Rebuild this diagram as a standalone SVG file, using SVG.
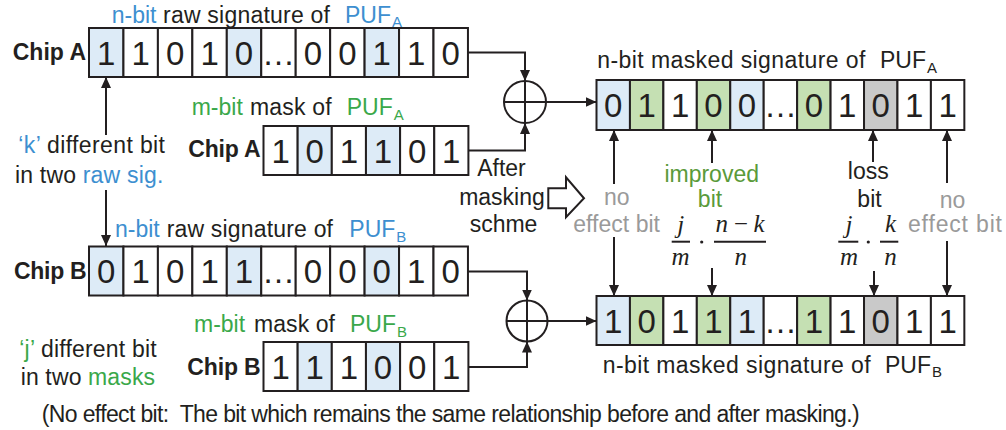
<svg xmlns="http://www.w3.org/2000/svg" width="1006" height="430" viewBox="0 0 1006 430">
  <style>
    .c { stroke: #231f20; stroke-width: 2; }
    .w { fill: #ffffff; }
    .b { fill: #ddebf7; }
    .g { fill: #c5e0b3; }
    .k { fill: #c9c9c9; }
    .d { font-family: "Liberation Sans", Arial, sans-serif; font-size: 33px; fill: #231f20; text-anchor: middle; }
    .t { font-family: "Liberation Sans", Arial, sans-serif; font-size: 23px; fill: #231f20; }
    .s { font-size: 15px; }
    .chip { font-family: "Liberation Sans", Arial, sans-serif; font-size: 23px; font-weight: bold; fill: #231f20; }
    .blue { fill: #3d8fd0; }
    .green { fill: #3aa84a; }
    .olive { fill: #5a9a3a; }
    .grey { fill: #9a9a9a; }
    .mid { text-anchor: middle; }
    .m { font-family: "Liberation Serif", "Times New Roman", serif; font-style: italic; font-size: 25px; fill: #231f20; text-anchor: middle; }
    .ln { fill: none; stroke: #231f20; stroke-width: 2; }
    .ar { fill: none; stroke: #231f20; stroke-width: 2; marker-end: url(#ah); }
  </style>
  <defs>
    <marker id="ah" markerUnits="userSpaceOnUse" markerWidth="11" markerHeight="10" refX="11" refY="5" orient="auto">
      <path d="M0,0 L11,5 L0,10 z" fill="#231f20"/>
    </marker>
  </defs>

  <!-- raw signature of chip A -->
  <g id="raw-a">
    <text class="t" y="22.7"><tspan class="blue" x="111.7">n-bit</tspan><tspan x="163" textLength="167">raw signature of</tspan><tspan class="blue" x="345">PUF</tspan><tspan class="blue s" dx="1" dy="4.3">A</tspan></text>
    <text class="chip" x="12.7" y="60" textLength="73.3">Chip A</text>
    <rect class="c b" x="89" y="28" width="34.45" height="49"/>
    <rect class="c w" x="123.45" y="28" width="34.45" height="49"/>
    <rect class="c w" x="157.9" y="28" width="34.45" height="49"/>
    <rect class="c w" x="192.35" y="28" width="34.45" height="49"/>
    <rect class="c b" x="226.8" y="28" width="34.45" height="49"/>
    <rect class="c w" x="261.25" y="28" width="34.45" height="49"/>
    <rect class="c w" x="295.7" y="28" width="34.45" height="49"/>
    <rect class="c w" x="330.15" y="28" width="34.45" height="49"/>
    <rect class="c b" x="364.6" y="28" width="34.45" height="49"/>
    <rect class="c w" x="399.05" y="28" width="34.45" height="49"/>
    <rect class="c w" x="433.5" y="28" width="34.45" height="49"/>
    <text class="d" y="64.5"><tspan x="106.2">1</tspan><tspan x="140.7">1</tspan><tspan x="175.1">0</tspan><tspan x="209.6">1</tspan><tspan x="244">0</tspan><tspan x="278.5">…</tspan><tspan x="312.9">0</tspan><tspan x="347.4">0</tspan><tspan x="381.8">1</tspan><tspan x="416.3">1</tspan><tspan x="450.7">0</tspan></text>
  </g>

  <!-- mask of chip A -->
  <g id="mask-a">
    <text class="t" y="115"><tspan class="green" x="191.7">m-bit</tspan><tspan x="250" textLength="81.7">mask of</tspan><tspan class="green" x="346.7">PUF</tspan><tspan class="green s" dx="1" dy="5">A</tspan></text>
    <text class="chip" x="188.3" y="157.3" textLength="72.4">Chip A</text>
    <rect class="c w" x="263.5" y="126" width="34.15" height="49"/>
    <rect class="c b" x="297.65" y="126" width="34.15" height="49"/>
    <rect class="c w" x="331.8" y="126" width="34.15" height="49"/>
    <rect class="c b" x="365.95" y="126" width="34.15" height="49"/>
    <rect class="c w" x="400.1" y="126" width="34.15" height="49"/>
    <rect class="c w" x="434.25" y="126" width="34.15" height="49"/>
    <text class="d" y="162.5"><tspan x="280.6">1</tspan><tspan x="314.7">0</tspan><tspan x="348.9">1</tspan><tspan x="383">1</tspan><tspan x="417.2">0</tspan><tspan x="451.3">1</tspan></text>
  </g>

  <!-- XOR of chip A -->
  <g id="xor-a">
    <circle class="ln" cx="525" cy="102" r="21"/>
    <path class="ln" d="M504,102 H546 M525,81 V123"/>
  </g>

  <!-- masked signature of chip A -->
  <g id="masked-a">
    <text class="t" y="68.3"><tspan x="597.3" textLength="268">n-bit masked signature of</tspan><tspan x="880">PUF</tspan><tspan class="s" dx="1" dy="5">A</tspan></text>
    <rect class="c b" x="596.5" y="80" width="33.44" height="50"/>
    <rect class="c g" x="629.94" y="80" width="33.44" height="50"/>
    <rect class="c w" x="663.38" y="80" width="33.44" height="50"/>
    <rect class="c g" x="696.82" y="80" width="33.44" height="50"/>
    <rect class="c b" x="730.26" y="80" width="33.44" height="50"/>
    <rect class="c w" x="763.7" y="80" width="33.44" height="50"/>
    <rect class="c g" x="797.14" y="80" width="33.44" height="50"/>
    <rect class="c w" x="830.58" y="80" width="33.44" height="50"/>
    <rect class="c k" x="864.02" y="80" width="33.44" height="50"/>
    <rect class="c w" x="897.46" y="80" width="33.44" height="50"/>
    <rect class="c w" x="930.9" y="80" width="33.44" height="50"/>
    <text class="d" y="117"><tspan x="613.2">0</tspan><tspan x="646.7">1</tspan><tspan x="680.1">1</tspan><tspan x="713.5">0</tspan><tspan x="747">0</tspan><tspan x="780.4">…</tspan><tspan x="813.9">0</tspan><tspan x="847.3">1</tspan><tspan x="880.7">0</tspan><tspan x="914.2">1</tspan><tspan x="947.6">1</tspan></text>
  </g>

  <!-- raw signature of chip B -->
  <g id="raw-b">
    <text class="t" y="236.7"><tspan class="blue" x="115">n-bit</tspan><tspan x="166.7" textLength="166.3">raw signature of</tspan><tspan class="blue" x="349.3">PUF</tspan><tspan class="blue s" dx="1" dy="5">B</tspan></text>
    <text class="chip" x="14" y="279.3" textLength="72.7">Chip B</text>
    <rect class="c b" x="89" y="246.5" width="34.45" height="49"/>
    <rect class="c w" x="123.45" y="246.5" width="34.45" height="49"/>
    <rect class="c w" x="157.9" y="246.5" width="34.45" height="49"/>
    <rect class="c w" x="192.35" y="246.5" width="34.45" height="49"/>
    <rect class="c b" x="226.8" y="246.5" width="34.45" height="49"/>
    <rect class="c w" x="261.25" y="246.5" width="34.45" height="49"/>
    <rect class="c w" x="295.7" y="246.5" width="34.45" height="49"/>
    <rect class="c w" x="330.15" y="246.5" width="34.45" height="49"/>
    <rect class="c b" x="364.6" y="246.5" width="34.45" height="49"/>
    <rect class="c w" x="399.05" y="246.5" width="34.45" height="49"/>
    <rect class="c w" x="433.5" y="246.5" width="34.45" height="49"/>
    <text class="d" y="283"><tspan x="106.2">0</tspan><tspan x="140.7">1</tspan><tspan x="175.1">0</tspan><tspan x="209.6">1</tspan><tspan x="244">1</tspan><tspan x="278.5">…</tspan><tspan x="312.9">0</tspan><tspan x="347.4">0</tspan><tspan x="381.8">0</tspan><tspan x="416.3">1</tspan><tspan x="450.7">0</tspan></text>
  </g>

  <!-- mask of chip B -->
  <g id="mask-b">
    <text class="t" y="331.7"><tspan class="green" x="194">m-bit</tspan><tspan x="254" textLength="81">mask of</tspan><tspan class="green" x="350">PUF</tspan><tspan class="green s" dx="1" dy="5">B</tspan></text>
    <text class="chip" x="187.3" y="375" textLength="73.4">Chip B</text>
    <rect class="c w" x="263.5" y="342" width="34.15" height="49"/>
    <rect class="c b" x="297.65" y="342" width="34.15" height="49"/>
    <rect class="c w" x="331.8" y="342" width="34.15" height="49"/>
    <rect class="c b" x="365.95" y="342" width="34.15" height="49"/>
    <rect class="c w" x="400.1" y="342" width="34.15" height="49"/>
    <rect class="c w" x="434.25" y="342" width="34.15" height="49"/>
    <text class="d" y="378.5"><tspan x="280.6">1</tspan><tspan x="314.7">1</tspan><tspan x="348.9">1</tspan><tspan x="383">0</tspan><tspan x="417.2">0</tspan><tspan x="451.3">1</tspan></text>
  </g>

  <!-- XOR of chip B -->
  <g id="xor-b">
    <circle class="ln" cx="527" cy="321" r="20.5"/>
    <path class="ln" d="M506.5,321 H547.5 M527,300.5 V341.5"/>
  </g>

  <!-- masked signature of chip B -->
  <g id="masked-b">
    <rect class="c b" x="596.5" y="296" width="33.44" height="49"/>
    <rect class="c g" x="629.94" y="296" width="33.44" height="49"/>
    <rect class="c w" x="663.38" y="296" width="33.44" height="49"/>
    <rect class="c g" x="696.82" y="296" width="33.44" height="49"/>
    <rect class="c b" x="730.26" y="296" width="33.44" height="49"/>
    <rect class="c w" x="763.7" y="296" width="33.44" height="49"/>
    <rect class="c g" x="797.14" y="296" width="33.44" height="49"/>
    <rect class="c w" x="830.58" y="296" width="33.44" height="49"/>
    <rect class="c k" x="864.02" y="296" width="33.44" height="49"/>
    <rect class="c w" x="897.46" y="296" width="33.44" height="49"/>
    <rect class="c w" x="930.9" y="296" width="33.44" height="49"/>
    <text class="d" y="332.5"><tspan x="613.2">1</tspan><tspan x="646.7">0</tspan><tspan x="680.1">1</tspan><tspan x="713.5">1</tspan><tspan x="747">1</tspan><tspan x="780.4">…</tspan><tspan x="813.9">1</tspan><tspan x="847.3">1</tspan><tspan x="880.7">0</tspan><tspan x="914.2">1</tspan><tspan x="947.6">1</tspan></text>
    <text class="t" y="373.3"><tspan x="602.7" textLength="268">n-bit masked signature of</tspan><tspan x="885">PUF</tspan><tspan class="s" dx="1" dy="4">B</tspan></text>
  </g>

  <!-- side notes on the left -->
  <g id="note-k">
    <text class="t" x="18.3" y="153.3" textLength="146.7"><tspan class="blue">‘k’</tspan> different bit</text>
    <text class="t" x="15" y="182.7" textLength="148.3">in two <tspan class="blue">raw sig.</tspan></text>
  </g>
  <g id="note-j">
    <text class="t" x="19.3" y="356.7" textLength="137.4"><tspan class="green">‘j’</tspan> different bit</text>
    <text class="t" x="20.7" y="385" textLength="134.3">in two <tspan class="green">masks</tspan></text>
  </g>

  <!-- masking step label and hollow arrow -->
  <g id="masking-step">
    <text class="t mid"><tspan x="501.5" y="176">After</tspan><tspan x="502" y="205">masking</tspan><tspan x="503.5" y="231.7">schme</tspan></text>
    <polygon points="548.3,188.3 566,188.3 566,177.3 584,198.3 566,217.3 566,208.3 548.3,208.3" fill="#ffffff" stroke="#231f20" stroke-width="2"/>
  </g>

  <!-- bit category labels -->
  <g id="label-noeffect-left">
    <text class="t grey mid" x="616.7" y="205">no</text>
    <text class="t grey" x="573.3" y="231.7" textLength="86.7">effect bit</text>
  </g>
  <g id="label-improved">
    <text class="t olive mid" x="711.7" y="181.7">improved</text>
    <text class="t olive mid" x="710" y="207">bit</text>
  </g>
  <g id="label-loss">
    <text class="t mid" x="868.3" y="179.3">loss</text>
    <text class="t mid" x="869.5" y="207">bit</text>
  </g>
  <g id="label-noeffect-right">
    <text class="t grey mid" x="952.5" y="208">no</text>
    <text class="t grey" x="908" y="231.7" textLength="94">effect bit</text>
  </g>

  <!-- probability of an improved bit -->
  <g id="prob-improved">
    <text class="m" x="680.8" y="233">j</text>
    <path class="ln" d="M671.7,241.7 H690"/>
    <text class="m" x="680.5" y="265">m</text>
    <circle cx="701.7" cy="242" r="1.6" fill="#231f20"/>
    <text class="m" x="740" y="231.7" textLength="49">n − k</text>
    <path class="ln" d="M714,241.7 H766"/>
    <text class="m" x="740.8" y="265">n</text>
  </g>

  <!-- probability of a lost bit -->
  <g id="prob-loss">
    <text class="m" x="849" y="233">j</text>
    <path class="ln" d="M838.3,241.7 H858.3"/>
    <text class="m" x="849" y="265">m</text>
    <circle cx="868.3" cy="242" r="1.6" fill="#231f20"/>
    <text class="m" x="890.5" y="231.7">k</text>
    <path class="ln" d="M880,241.7 H898.3"/>
    <text class="m" x="890.5" y="265">n</text>
  </g>

  <!-- footnote -->
  <text id="footnote" class="t" x="41.7" y="422" textLength="818" xml:space="preserve">(No effect bit:  The bit which remains the same relationship before and after masking.)</text>

  <!-- connectors -->
  <g id="connectors">
    <path class="ar" d="M468,52.5 H525 V81"/>
    <path class="ar" d="M468,150.5 H525 V123"/>
    <path class="ar" d="M546,102 H596.5"/>
    <path class="ar" d="M468,271.5 H527 V300.5"/>
    <path class="ar" d="M468,367 H527 V341.5"/>
    <path class="ar" d="M547.5,321 H596.5"/>
    <path class="ar" d="M106,135 V77"/>
    <path class="ar" d="M106,190 V246"/>
    <path class="ar" d="M614,184 V130"/>
    <path class="ar" d="M712,163 V130"/>
    <path class="ar" d="M873,162 V130"/>
    <path class="ar" d="M947,183 V130"/>
    <path class="ar" d="M614,237 V296"/>
    <path class="ar" d="M712,268 V296"/>
    <path class="ar" d="M874,271 V296"/>
    <path class="ar" d="M947,241 V296"/>
  </g>
</svg>
